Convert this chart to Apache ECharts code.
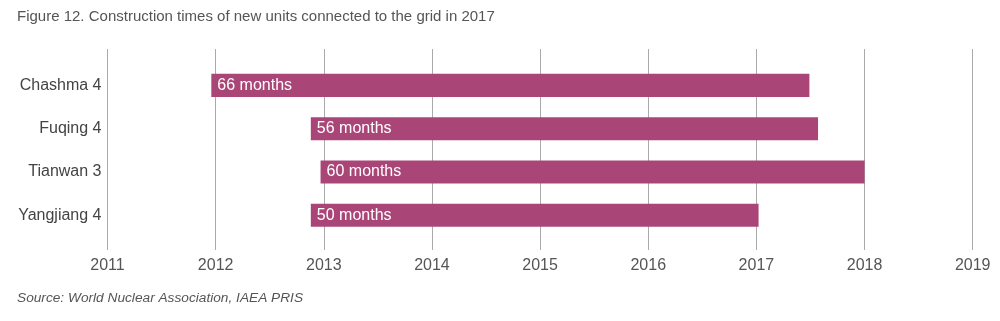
<!DOCTYPE html>
<html>
<head>
<meta charset="utf-8">
<script src="https://cdn.jsdelivr.net/npm/echarts@6/dist/echarts.min.js"></script>
<style>html,body{margin:0;padding:0;background:#fff;}#c{width:1000px;height:321px;}</style>
</head>
<body>
<div id="c"></div>
<script>
const categories = ['Chashma 4', 'Fuqing 4', 'Tianwan 3', 'Yangjiang 4'];
const startYears = [2011.96, 2012.88, 2012.97, 2012.88];
const endYears = [2017.49, 2017.57, 2018.0, 2017.02];
const months = [66, 56, 60, 50];
const barLabels = months.map(m => m + ' months');

const FONT = '"Liberation Sans", Arial, Helvetica, sans-serif';
const chart = echarts.init(document.getElementById('c'), null, {renderer: 'canvas'});

const data = categories.map((c, i) => [startYears[i], endYears[i], i]);

chart.setOption({
  animation: false,
  backgroundColor: '#fff',
  title: [{
    text: 'Figure 12. Construction times of new units connected to the grid in 2017',
    left: 12, top: 4,
    textStyle: {fontFamily: FONT, fontSize: 15, fontWeight: 'normal', color: '#555'}
  }, {
    text: 'Source: World Nuclear Association, IAEA PRIS',
    left: 12, top: 286,
    textStyle: {fontFamily: FONT, fontSize: 13.7, fontWeight: 'normal', fontStyle: 'italic', color: '#555'}
  }],
  grid: {left: 107.5, right: 27.3, top: 49, bottom: 71, containLabel: false},
  xAxis: {
    type: 'value', min: 2011, max: 2019, interval: 1,
    axisLine: {show: false}, axisTick: {show: false},
    splitLine: {show: true, lineStyle: {color: '#aaa', width: 1}},
    axisLabel: {margin: 8, fontFamily: FONT, fontSize: 16, color: '#555', formatter: v => String(v)}
  },
  yAxis: {
    type: 'value', inverse: true, min: -0.84, max: 3.80,
    axisLine: {show: false}, axisTick: {show: false}, splitLine: {show: false},
    axisLabel: {
      customValues: [0, 1, 2, 3], margin: 6,
      fontFamily: FONT, fontSize: 16, color: '#444',
      formatter: v => categories[Math.round(v)] || ''
    }
  },
  series: [{
    type: 'custom',
    data: data,
    encode: {x: [0, 1], y: 2},
    renderItem: function (params, api) {
      const s = api.coord([api.value(0), api.value(2)]);
      const e = api.coord([api.value(1), api.value(2)]);
      const h = api.size([0, 0.532])[1];
      return {
        type: 'rect',
        shape: {x: s[0], y: s[1] - h / 2, width: e[0] - s[0], height: h},
        style: {fill: '#AA4677'},
        textContent: {
          style: {text: barLabels[params.dataIndex], fill: '#fff', fontFamily: FONT, fontSize: 16}
        },
        textConfig: {position: 'insideLeft', distance: 6}
      };
    }
  }]
});
</script>
</body>
</html>
